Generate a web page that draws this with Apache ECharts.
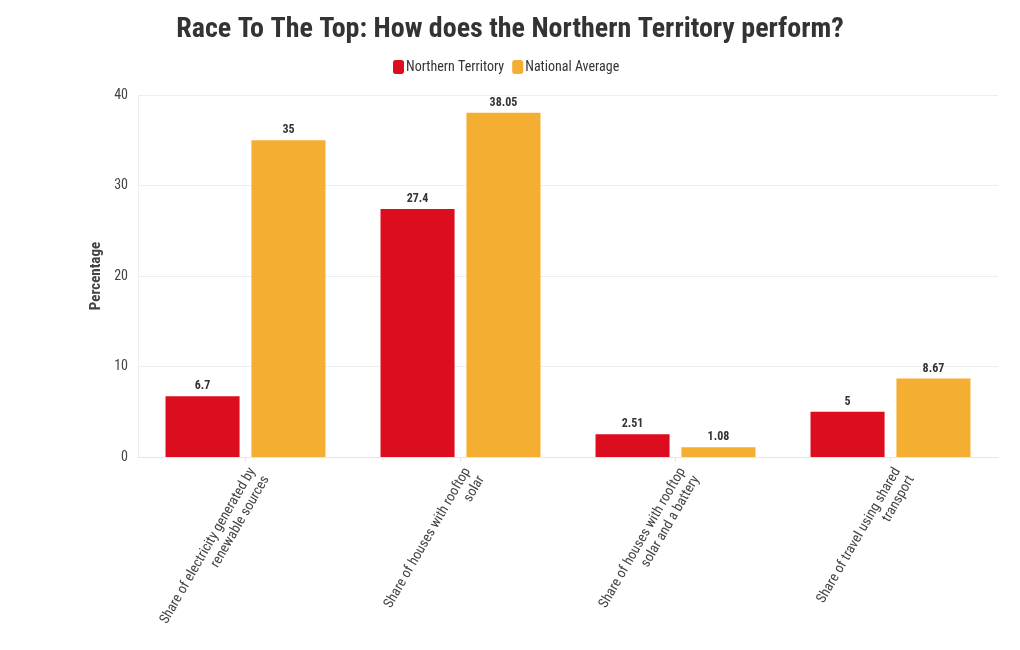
<!DOCTYPE html>
<html><head><meta charset="utf-8">
<script src="https://cdn.jsdelivr.net/npm/echarts@6/dist/echarts.min.js"></script>
<style>html,body{margin:0;padding:0;background:#fff}#c{width:1020px;height:650px}</style>
</head><body><div id="c"></div>
<script>
const categories = [
  "Share of electricity generated by\nrenewable sources",
  "Share of houses with rooftop\nsolar",
  "Share of houses with rooftop\nsolar and a battery",
  "Share of travel using shared\ntransport"
];
const northernTerritory = [6.7, 27.4, 2.51, 5];
const nationalAverage = [35, 38.05, 1.08, 8.67];
const yTicks = [0, 10, 20, 30, 40];

const FONT = '"Roboto Condensed","Liberation Sans Narrow",Roboto,sans-serif';
const chart = echarts.init(document.getElementById('c'));
const labelStyle = {show: true, position: 'top', fontFamily: FONT, fontWeight: 'bold', fontSize: 12, color: '#333', distance: 4};
chart.setOption({
  backgroundColor: '#fff',
  textStyle: {fontFamily: FONT},
  title: {text: 'Race To The Top: How does the Northern Territory perform?', left: 505, textAlign: 'center', top: 11,
    textStyle: {fontFamily: FONT, fontWeight: 'bold', fontSize: 28, color: '#333'}},
  legend: {top: 55, left: 388, itemWidth: 11, itemHeight: 14, itemGap: 8, icon: 'roundRect',
    textStyle: {fontFamily: FONT, fontSize: 14, color: '#333', padding: [0, 0, 0, -3]}},
  grid: {left: 138, right: 22, top: 95, bottom: 193},
  xAxis: {type: 'category', data: categories,
    axisLine: {lineStyle: {color: '#e6e6e6'}},
    axisTick: {show: true, alignWithLabel: true, length: 5, lineStyle: {color: '#e6e6e6'}},
    axisLabel: {rotate: 60, interval: 0, fontFamily: FONT, fontSize: 14, color: '#444', lineHeight: 16, margin: 8, verticalAlign: 'top'}},
  yAxis: {type: 'value', min: 0, max: 40, interval: 10,
    name: 'Percentage', nameLocation: 'middle', nameGap: 33, nameRotate: 90,
    nameTextStyle: {fontFamily: FONT, fontWeight: 'bold', fontSize: 15, color: '#444'},
    axisLine: {show: true, lineStyle: {color: '#eeeeee'}},
    axisLabel: {fontFamily: FONT, fontSize: 14, color: '#444', margin: 10,
      formatter: v => yTicks.includes(v) ? String(v) : ''},
    splitLine: {lineStyle: {color: '#eeeeee'}}},
  series: [
    {name: 'Northern Territory', type: 'bar', data: northernTerritory, itemStyle: {color: '#dc0d1e'},
      barGap: '16%', barCategoryGap: '25.6%', label: labelStyle},
    {name: 'National Average', type: 'bar', data: nationalAverage, itemStyle: {color: '#f4ae32'},
      label: labelStyle}
  ]
});
</script></body></html>
